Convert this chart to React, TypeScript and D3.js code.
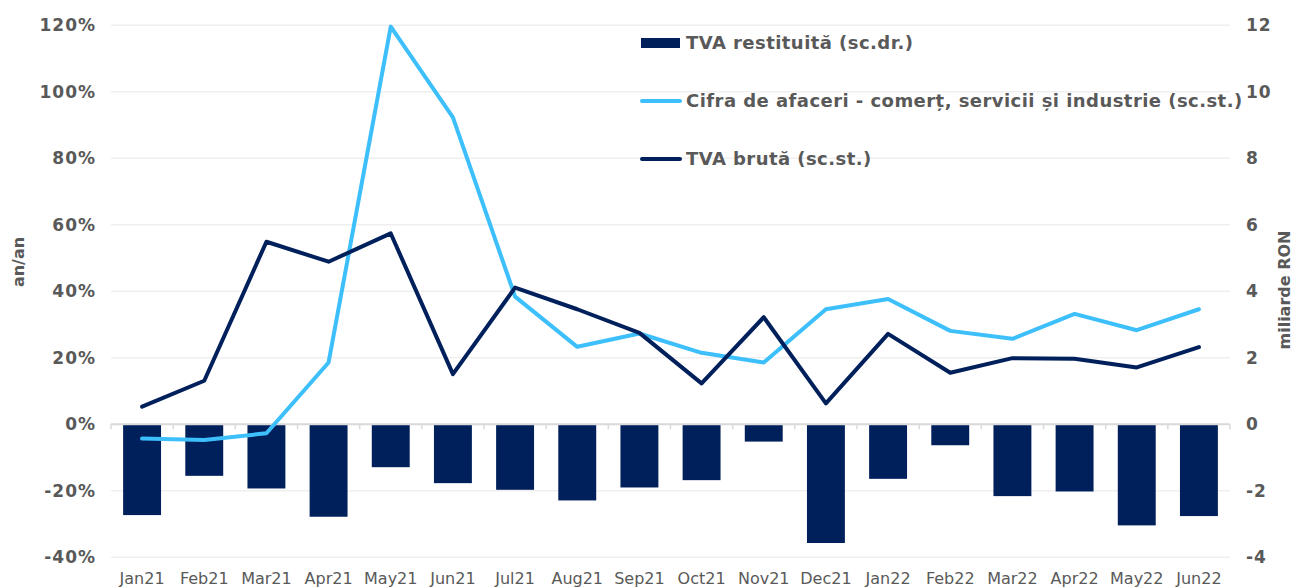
import React from "react";
import * as d3 from "d3";

const categories = ["Jan21","Feb21","Mar21","Apr21","May21","Jun21","Jul21","Aug21","Sep21","Oct21","Nov21","Dec21","Jan22","Feb22","Mar22","Apr22","May22","Jun22"];
const tvaRestituita = [-2.73,-1.55,-1.93,-2.78,-1.29,-1.77,-1.97,-2.29,-1.90,-1.68,-0.52,-3.57,-1.64,-0.63,-2.16,-2.02,-3.04,-2.76];
const cifraAfaceri = [-4.3,-4.7,-2.7,18.6,119.6,92.3,38.4,23.3,27.3,21.5,18.6,34.6,37.7,28.1,25.7,33.2,28.3,34.6];
const tvaBruta = [5.3,13.1,54.9,48.9,57.4,15.1,41.1,34.6,27.5,12.3,32.2,6.3,27.2,15.5,19.9,19.7,17.1,23.2];
const leftTicks = [-40,-20,0,20,40,60,80,100,120];
const rightTicks = [-4,-2,0,2,4,6,8,10,12];
const legendItems = [
  { label: "TVA restituită (sc.dr.)", kind: "bar" },
  { label: "Cifra de afaceri - comerț, servicii și industrie (sc.st.)", kind: "light" },
  { label: "TVA brută (sc.st.)", kind: "dark" },
];

const NAVY = "#00205C";
const LIGHT = "#3CBFFB";
const GRAY = "#595959";
const FONT = "'DejaVu Sans', Verdana, sans-serif";

export default function App() {
  const W = 1296, H = 587;
  const left = 111, right = 1230, top = 25.3, bottom = 557.3;
  const x = d3.scaleBand<string>().domain(categories).range([left, right]).paddingInner(0.39).paddingOuter(0.195);
  const yL = d3.scaleLinear().domain([-40, 120]).range([bottom, top]);
  const yR = d3.scaleLinear().domain([-4, 12]).range([bottom, top]);
  const cx = (c: string) => (x(c) as number) + x.bandwidth() / 2;
  const line = d3.line<number>().x((_, i) => cx(categories[i])).y((d) => yL(d));
  const boundaries = d3.range(categories.length + 1).map((i) => left + i * ((right - left) / categories.length));

  return (
    <svg width={W} height={H} style={{ position: "absolute", left: 0, top: 0, background: "#fff" }}>
      {leftTicks.filter((t) => t !== 0).map((t) => (
        <line key={"g" + t} x1={left} x2={right} y1={yL(t)} y2={yL(t)} stroke="#EFEFEF" strokeWidth={1.5} />
      ))}
      {categories.map((c, i) => {
        const v = tvaRestituita[i];
        return (
          <rect key={"b" + c} x={x(c)} y={yR(Math.max(0, v))} width={x.bandwidth()} height={Math.abs(yR(v) - yR(0))} fill={NAVY} />
        );
      })}
      <line x1={left} x2={right} y1={yL(0)} y2={yL(0)} stroke="#D9D9D9" strokeWidth={2} />
      {boundaries.map((bx, i) => (
        <line key={"t" + i} x1={bx} x2={bx} y1={yL(0)} y2={yL(0) + 5} stroke="#D9D9D9" strokeWidth={1.5} />
      ))}
      <path d={line(cifraAfaceri) || ""} fill="none" stroke={LIGHT} strokeWidth={4} strokeLinejoin="round" strokeLinecap="round" />
      <path d={line(tvaBruta) || ""} fill="none" stroke={NAVY} strokeWidth={4} strokeLinejoin="round" strokeLinecap="round" />
      {leftTicks.map((t) => (
        <text key={"l" + t} x={96} y={yL(t)} dy="0.36em" textAnchor="end" fontFamily={FONT} fontWeight="bold" fontSize={17} letterSpacing={1} fill={GRAY}>
          {t + "%"}
        </text>
      ))}
      {rightTicks.map((t) => (
        <text key={"r" + t} x={1246} y={yR(t)} dy="0.36em" textAnchor="start" fontFamily={FONT} fontWeight="bold" fontSize={17} letterSpacing={1} fill={GRAY}>
          {t}
        </text>
      ))}
      {categories.map((c) => (
        <text key={"c" + c} x={cx(c)} y={584} textAnchor="middle" fontFamily={FONT} fontSize={16} fill={GRAY}>
          {c}
        </text>
      ))}
      <text transform={`translate(24,${262}) rotate(-90)`} textAnchor="middle" fontFamily={FONT} fontWeight="bold" fontSize={16} fill={GRAY}>
        an/an
      </text>
      <text transform={`translate(1290,${290}) rotate(-90)`} textAnchor="middle" fontFamily={FONT} fontWeight="bold" fontSize={16} fill={GRAY}>
        miliarde RON
      </text>
      {legendItems.map((it, i) => {
        const ly = 43 + i * 58;
        return (
          <g key={"lg" + i}>
            {it.kind === "bar" ? (
              <rect x={641} y={ly - 5} width={39} height={10} fill={NAVY} />
            ) : (
              <line x1={642} x2={680} y1={ly} y2={ly} stroke={it.kind === "light" ? LIGHT : NAVY} strokeWidth={4} strokeLinecap="round" />
            )}
            <text x={686} y={ly} dy="0.36em" fontFamily={FONT} fontWeight="bold" fontSize={18} letterSpacing={0.45} fill={GRAY}>
              {it.label}
            </text>
          </g>
        );
      })}
    </svg>
  );
}
